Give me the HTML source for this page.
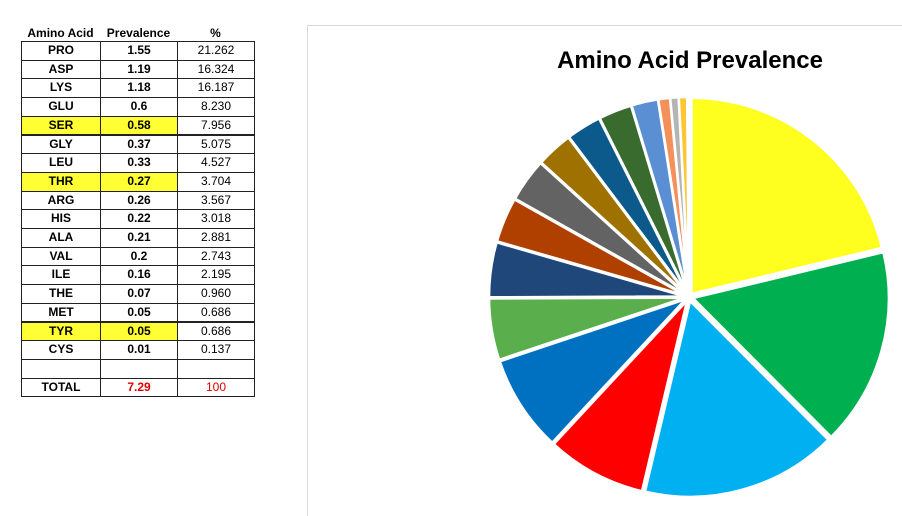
<!DOCTYPE html>
<html><head><meta charset="utf-8"><style>
body{margin:0;width:902px;height:507px;background:#fff;position:relative;overflow:hidden;font-family:"Liberation Sans",Calibri,sans-serif;}
.c{position:absolute;font-size:12px;text-align:center;line-height:18px;}
.h{position:absolute;font-size:12px;font-weight:bold;text-align:center;}
</style></head><body>
<div id="t"></div>
<div style="position:absolute;left:307px;top:25px;width:600px;height:490px;border-left:1px solid #d9d9d9;border-top:1px solid #d9d9d9;"></div>
<div style="position:absolute;left:490px;top:47px;width:400px;text-align:center;font-size:24px;font-weight:bold;">Amino Acid Prevalence</div>
<svg id="p" width="902" height="507" style="position:absolute;left:0;top:0"></svg>
<script>
var d=[["PRO","1.55","21.262"],["ASP","1.19","16.324"],["LYS","1.18","16.187"],["GLU","0.6","8.230"],["SER","0.58","7.956",1],["GLY","0.37","5.075"],["LEU","0.33","4.527"],["THR","0.27","3.704",1],["ARG","0.26","3.567"],["HIS","0.22","3.018"],["ALA","0.21","2.881"],["VAL","0.2","2.743"],["ILE","0.16","2.195"],["THE","0.07","0.960"],["MET","0.05","0.686"],["TYR","0.05","0.686",1],["CYS","0.01","0.137"],["","",""],["TOTAL","7.29","100",2]];
var xs=[21,100,177,254],h='';
h+='<div class="h" style="left:21px;top:26px;width:79px">Amino Acid</div><div class="h" style="left:100px;top:26px;width:77px">Prevalence</div><div class="h" style="left:177px;top:26px;width:77px">%</div>';
var y0=41,rh=18.7;
for(var i=0;i<d.length;i++){var y=y0+i*rh;var r=d[i];
for(var j=0;j<3;j++){var bg=(r[3]==1&&j<2)?'#ffff33':'#fff';var col=(r[3]==2&&j>0)?'#e00000':'#000';var fw=j<2?'bold':'normal';
h+='<div class="c" style="left:'+xs[j]+'px;top:'+y.toFixed(1)+'px;width:'+(xs[j+1]-xs[j]-1)+'px;height:'+(rh-1).toFixed(1)+'px;line-height:'+(rh-1).toFixed(1)+'px;border:1px solid #222;box-sizing:content-box;background:'+bg+';color:'+col+';font-weight:'+fw+'">'+r[j]+'</div>';}}
document.getElementById('t').innerHTML=h;
var v=[21.262,16.324,16.187,8.23,7.956,5.075,4.527,3.704,3.567,3.018,2.881,2.743,2.195,0.96,0.686,0.686,0.137];
var cols=["#ffff1f","#00b050","#00b0f0","#ff0000","#0070c0","#5aaf4c","#1f477a","#b04000","#636363","#9e7100","#0c5a8c","#3a6b2e","#5b8fd3","#f4905a","#b4b4b4","#ffc533","#7f7f7f"];
var cx=689,cy=297,R=196,s=0,sum=v.reduce(function(a,b){return a+b},0),p='';
for(var k=0;k<v.length;k++){var a0=s/sum*2*Math.PI,a1=(s+v[k])/sum*2*Math.PI;s+=v[k];var m=(a0+a1)/2,e=4;
var ox=cx+e*Math.sin(m),oy=cy-e*Math.cos(m);
var x0=ox+R*Math.sin(a0),y0_=oy-R*Math.cos(a0),x1=ox+R*Math.sin(a1),y1=oy-R*Math.cos(a1);
p+='<path d="M'+ox+' '+oy+'L'+x0+' '+y0_+'A'+R+' '+R+' 0 '+((a1-a0)>Math.PI?1:0)+' 1 '+x1+' '+y1+'Z" fill="'+cols[k]+'" stroke="#fff" stroke-width="2.5"/>';}
document.getElementById('p').innerHTML=p;
</script>
</body></html>
